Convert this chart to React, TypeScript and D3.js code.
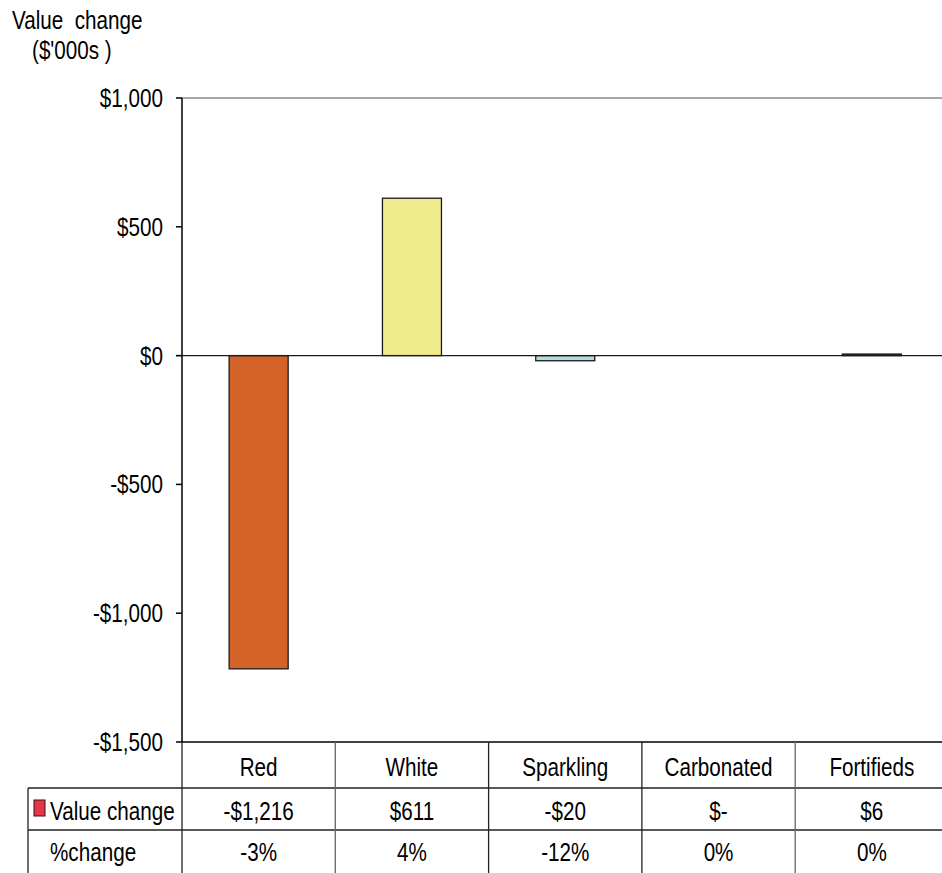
import React from "react";
import * as d3 from "d3";

// Wine category value change, $'000s
const categories = ["Red", "White", "Sparkling", "Carbonated", "Fortifieds"];
const valueChange = [-1216, 611, -20, 0, 6];
const valueLabels = ["-$1,216", "$611", "-$20", "$-", "$6"];
const pctChange = ["-3%", "4%", "-12%", "0%", "0%"];
const barColors = ["#D4632A", "#F0EB8C", "#B5D9DF", "#9FB7D8", "#3A3A3A"];
const yTicks = [-1500, -1000, -500, 0, 500, 1000];

const W = 942;
const H = 873;
const FONT = "'Liberation Sans', Arial, sans-serif";
const FS = 26.5;
const SX = 0.78; // horizontal condensing for a narrow face

const fmtMoney = (v: number) => {
  const s = d3.format(",")(Math.abs(v));
  return v < 0 ? `-$${s}` : `$${s}`;
};

type NTextProps = {
  x: number;
  y: number;
  anchor?: "start" | "middle" | "end";
  children: React.ReactNode;
};

// Condensed text drawn around its anchor point
function NText({ x, y, anchor = "start", children }: NTextProps) {
  return (
    <text
      transform={`translate(${x},${y}) scale(${SX},1)`}
      fontSize={FS}
      textAnchor={anchor}
      fill="#000"
      style={{ whiteSpace: "pre" }}
    >
      {children}
    </text>
  );
}

export default function App() {
  const left = 182;
  const right = 948.5;
  const top = 98;
  const bottom = 742;

  const x = d3
    .scaleBand<string>()
    .domain(categories)
    .range([left, right])
    .paddingInner(0.615)
    .paddingOuter(0.3075);
  const step = x.step();
  const colStart = (i: number) => left + i * step;

  const y = d3.scaleLinear().domain([-1500, 1000]).range([bottom, top]);
  const y0 = y(0);

  const row1 = bottom + 46; // bottom of category row
  const row2 = row1 + 42; // bottom of value row
  const tableBottom = H + 2;
  const tableLeft = 28;

  return (
    <svg
      width={W}
      height={H}
      style={{ position: "absolute", left: 0, top: 0, background: "#fff" }}
      fontFamily={FONT}
    >
      {/* axis title */}
      <NText x={12} y={29}>{"Value  change"}</NText>
      <NText x={32} y={59}>{"($'000s )"}</NText>

      {/* plot frame */}
      <line x1={left} x2={right} y1={top} y2={top} stroke="#8a8a8a" strokeWidth={1.5} />

      {/* bars */}
      {categories.map((c, i) => {
        const v = valueChange[i];
        if (v === 0) return null;
        const yTop = Math.min(y(v), y0);
        const h = Math.abs(y(v) - y0);
        return (
          <rect
            key={c}
            x={x(c)}
            y={yTop}
            width={x.bandwidth()}
            height={h}
            fill={barColors[i]}
            stroke="#1a1a1a"
            strokeWidth={1.3}
          />
        );
      })}

      {/* zero line */}
      <line x1={left - 6} x2={right} y1={y0} y2={y0} stroke="#1a1a1a" strokeWidth={1.4} />

      {/* y axis */}
      <line x1={left} x2={left} y1={top} y2={bottom} stroke="#000" strokeWidth={1.5} />
      {yTicks.map((t) => (
        <g key={t}>
          <line x1={left - 6} x2={left} y1={y(t)} y2={y(t)} stroke="#000" strokeWidth={1.5} />
          <NText x={163} y={y(t) + 9} anchor="end">
            {fmtMoney(t)}
          </NText>
        </g>
      ))}

      {/* data table */}
      <line x1={left} x2={right} y1={bottom} y2={bottom} stroke="#000" strokeWidth={1.5} />
      <line x1={tableLeft} x2={right} y1={row1} y2={row1} stroke="#222" strokeWidth={1.3} />
      <line x1={tableLeft} x2={right} y1={row2} y2={row2} stroke="#222" strokeWidth={1.3} />
      <line x1={tableLeft} x2={tableLeft} y1={row1} y2={tableBottom} stroke="#222" strokeWidth={1.3} />
      {d3.range(categories.length + 1).map((i) => (
        <line
          key={i}
          x1={colStart(i)}
          x2={colStart(i)}
          y1={bottom}
          y2={tableBottom}
          stroke={i === 1 || i === 4 ? "#666" : "#222"}
          strokeWidth={1.3}
        />
      ))}

      {/* row headers */}
      <rect x={34} y={800} width={11} height={16} fill="#E8344A" stroke="#3a1010" strokeWidth={1} />
      <NText x={50} y={820}>Value change</NText>
      <NText x={50} y={861}>%change</NText>

      {categories.map((c, i) => {
        const cx = colStart(i) + step / 2;
        return (
          <g key={c}>
            <NText x={cx} y={776} anchor="middle">{c}</NText>
            <NText x={cx} y={820} anchor="middle">{valueLabels[i]}</NText>
            <NText x={cx} y={861} anchor="middle">{pctChange[i]}</NText>
          </g>
        );
      })}
    </svg>
  );
}
